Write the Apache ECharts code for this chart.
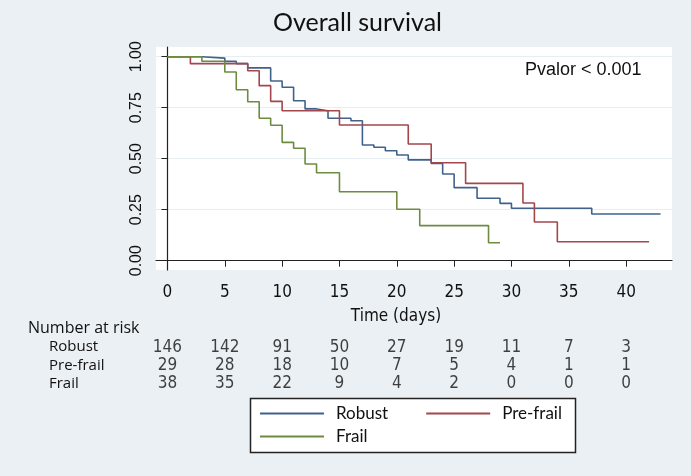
<!DOCTYPE html>
<html>
<head>
<meta charset="utf-8">
<script src="https://cdn.jsdelivr.net/npm/echarts@6/dist/echarts.min.js"></script>
<style>html,body{margin:0;padding:0;background:#eaf0f4;}#c{width:691px;height:476px;}</style>
</head>
<body>
<div id="c"></div>
<script>
// ---- data ----
const groups = ['Robust', 'Pre-frail', 'Frail'];
const robust = [[0,1],[3,0.993],[5,0.977],[6,0.966],[7,0.945],[9,0.881],[10,0.850],[11,0.784],[12,0.744],[13,0.735],[14,0.698],[16,0.686],[17,0.567],[18,0.556],[19,0.539],[20,0.518],[21,0.494],[23,0.477],[24,0.425],[25,0.358],[27,0.306],[29,0.281],[30,0.257],[37,0.229],[43,0.229]];
const prefrail = [[0,1],[2,0.966],[7,0.931],[8,0.858],[9,0.781],[10,0.735],[15,0.665],[21,0.572],[23,0.480],[26,0.379],[31,0.283],[32,0.190],[34,0.093],[42,0.093]];
const frail = [[0,1],[3,0.978],[5,0.925],[6,0.838],[7,0.779],[8,0.698],[9,0.664],[10,0.580],[11,0.551],[12,0.474],[13,0.431],[15,0.338],[20,0.252],[22,0.172],[28,0.088],[29,0.088]];
const xTicks = [0,5,10,15,20,25,30,35,40];
const yTicks = [0,0.25,0.5,0.75,1];
const riskRobust = [146,142,91,50,27,19,11,7,3];
const riskPrefrail = [29,28,18,10,7,5,4,1,1];
const riskFrail = [38,35,22,9,4,2,0,0,0];
const pText = 'Pvalor < 0.001';

const colors = ['#41618d', '#a3474d', '#6d8c40'];
const numFont = "'Liberation Sans Narrow', 'DejaVu Sans Condensed', 'Liberation Sans', sans-serif";

function riskData(row, arr) { return arr.map((v, i) => [xTicks[i], row, v]); }

const chart = echarts.init(document.getElementById('c'));
const legendText = { fontFamily: 'Lato', fontSize: 17, color: '#111', padding: [0, 0, 0, 7] };
const option = {
  backgroundColor: '#eaf0f4',
  animation: false,
  title: {
    text: 'Overall survival', left: 268, top: 5,
    textStyle: { fontFamily: 'Lato', fontSize: 25, fontWeight: 'normal', color: '#111' }
  },
  grid: [
    { left: 156, top: 47, width: 516, height: 223, show: true, backgroundColor: '#ffffff', borderWidth: 0 },
    { left: 156, top: 338, width: 516, height: 55, show: false }
  ],
  xAxis: [
    {
      gridIndex: 0, type: 'value', min: -1, max: 44,
      axisLine: { show: true, lineStyle: { color: '#222', width: 1.2 } },
      axisTick: { show: true, length: 6, lineStyle: { color: '#222' }, customValues: xTicks },
      axisLabel: { customValues: xTicks, color: '#111', fontSize: 17, fontFamily: numFont, margin: 14 },
      splitLine: { show: false },
      name: 'Time (days)', nameLocation: 'middle', nameGap: 38,
      nameTextStyle: { fontSize: 17, fontFamily: numFont, color: '#111', padding: [0, 36, 0, 0] }
    },
    {
      gridIndex: 1, type: 'value', min: -1, max: 44, show: false
    }
  ],
  yAxis: [
    {
      gridIndex: 0, type: 'value', min: -0.0456, max: 1.0475,
      axisLine: { show: true, lineStyle: { color: '#222', width: 1.2 } },
      axisTick: { show: true, length: 6, lineStyle: { color: '#222' }, customValues: yTicks },
      axisLabel: { customValues: yTicks, rotate: 90, color: '#111', fontSize: 16, fontFamily: 'Liberation Sans', margin: 11,
        formatter: v => v.toFixed(2) },
      splitLine: { show: true, lineStyle: { color: '#e6eef1', width: 1 } }
    },
    {
      gridIndex: 1, type: 'category', data: groups, inverse: true,
      axisLine: { show: false }, axisTick: { show: false },
      axisLabel: { interval: 0, align: 'left', margin: 107, color: '#111', fontSize: 15, fontFamily: 'Open Sans' }
    }
  ],
  legend: [
    { data: ['Robust', 'Pre-frail'], left: 259, top: 405, padding: 0, itemWidth: 64, itemHeight: 14, itemGap: 37,
      itemStyle: { opacity: 0 }, textStyle: legendText },
    { data: ['Frail'], left: 259, top: 428, padding: 0, itemWidth: 64, itemHeight: 14,
      itemStyle: { opacity: 0 }, textStyle: legendText }
  ],
  graphic: [
    { type: 'rect', shape: { x: 250.5, y: 398.5, width: 325, height: 54 }, style: { fill: '#fff', stroke: '#222', lineWidth: 1.5 }, z: -1 },
    { type: 'text', left: 525, top: 61, style: { text: pText, font: "18px 'Liberation Sans'", fill: '#111' } },
    { type: 'text', left: 28, top: 320, style: { text: 'Number at risk', font: "16px 'Open Sans'", fill: '#111' } }
  ],
  series: [
    { name: 'Robust', type: 'line', step: 'end', data: robust, showSymbol: false, symbol: 'none',
      lineStyle: { color: colors[0], width: 1.6 }, itemStyle: { color: colors[0] } },
    { name: 'Pre-frail', type: 'line', step: 'end', data: prefrail, showSymbol: false, symbol: 'none',
      lineStyle: { color: colors[1], width: 1.6 }, itemStyle: { color: colors[1] } },
    { name: 'Frail', type: 'line', step: 'end', data: frail, showSymbol: false, symbol: 'none',
      lineStyle: { color: colors[2], width: 1.6 }, itemStyle: { color: colors[2] } },
    ...[riskRobust, riskPrefrail, riskFrail].map((arr, r) => ({
      type: 'scatter', xAxisIndex: 1, yAxisIndex: 1, data: riskData(r, arr),
      symbolSize: 1, itemStyle: { color: 'transparent' }, silent: true,
      label: { show: true, position: 'inside', formatter: p => String(p.data[2]), color: '#111', fontSize: 17, fontFamily: numFont }
    }))
  ]
};
chart.setOption(option);
</script>
</body>
</html>
